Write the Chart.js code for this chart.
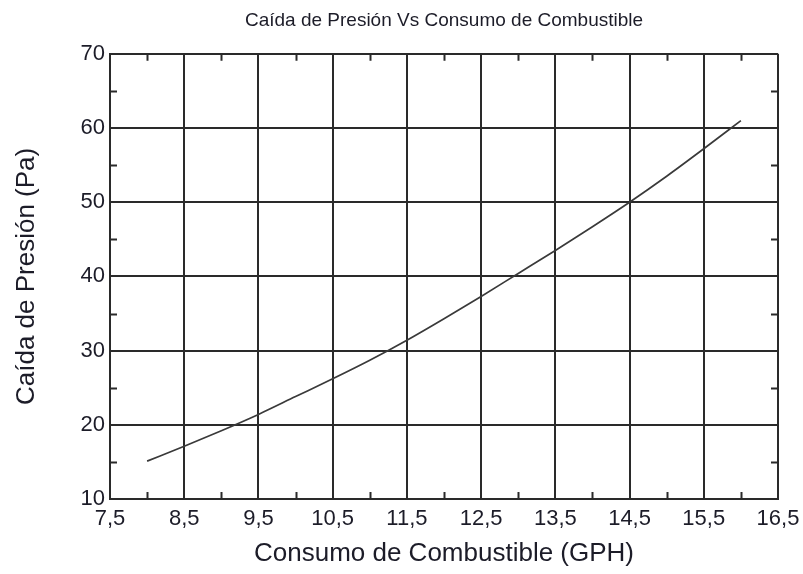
<!DOCTYPE html>
<html>
<head>
<meta charset="utf-8">
<script src="https://cdn.jsdelivr.net/npm/chart.js@4.4.0/dist/chart.umd.min.js"></script>
<style>
  body { margin: 0; background: #fff; }
  #chart { display: block; }
</style>
</head>
<body>
<canvas id="chart" width="803" height="574"></canvas>
<script>
// Consumo de combustible (GPH)
const consumo = [8, 8.5, 9, 9.5, 10, 10.5, 11, 11.5, 12, 12.5, 13, 13.5, 14, 14.5, 15, 15.5, 16];
// Caida de presion (Pa)
const presion = [15.1, 17.1, 19.2, 21.4, 23.8, 26.2, 28.7, 31.4, 34.3, 37.3, 40.4, 43.5, 46.7, 50.0, 53.5, 57.2, 61.0];

const xTicks = [7.5, 8.5, 9.5, 10.5, 11.5, 12.5, 13.5, 14.5, 15.5, 16.5];
const yTicks = [10, 20, 30, 40, 50, 60, 70];

const gridColor = "#2a2a2a";
const textColor = "#1c1c28";
const fontFamily = "Liberation Sans, Arial, sans-serif";

// minor ticks pointing inside the plot, on all four sides
const minorTicks = {
    id: "minorTicks",
    afterDraw(chart) {
        const { ctx, chartArea: a, scales: { x, y } } = chart;
        ctx.save();
        ctx.strokeStyle = gridColor;
        ctx.lineWidth = 2;
        ctx.beginPath();
        for (let v = 8; v <= 16; v += 1) {
            const px = Math.round(x.getPixelForValue(v)) + 0.5;
            ctx.moveTo(px, a.bottom); ctx.lineTo(px, a.bottom - 7);
            ctx.moveTo(px, a.top); ctx.lineTo(px, a.top + 7);
        }
        for (let v = 15; v <= 65; v += 10) {
            const py = Math.round(y.getPixelForValue(v)) + 0.5;
            ctx.moveTo(a.left, py); ctx.lineTo(a.left + 7, py);
            ctx.moveTo(a.right, py); ctx.lineTo(a.right - 7, py);
        }
        ctx.stroke();
        ctx.restore();
    }
};

new Chart(document.getElementById("chart"), {
    type: "scatter",
    data: {
        datasets: [{
            data: consumo.map((c, i) => ({ x: c, y: presion[i] })),
            showLine: true,
            borderColor: "#3a3a3a",
            borderWidth: 1.7,
            pointRadius: 0,
            cubicInterpolationMode: "monotone",
        }],
    },
    options: {
        responsive: false,
        animation: false,
        layout: { padding: { left: 0, right: 25, top: 0, bottom: 0 } },
        plugins: {
            legend: { display: false },
            tooltip: { enabled: false },
            title: {
                display: true,
                fullSize: false,
                text: "Caída de Presión Vs Consumo de Combustible",
                color: textColor,
                font: { family: fontFamily, size: 19, weight: "normal" },
                padding: { top: 9, bottom: 22 },
            },
        },
        scales: {
            x: {
                type: "linear",
                min: 7.5,
                max: 16.5,
                afterBuildTicks: (scale) => { scale.ticks = xTicks.map(v => ({ value: v })); },
                afterFit: (scale) => {
                    scale.height = 75;
                    scale.paddingLeft = 0;
                    scale.paddingRight = 0;
                },
                ticks: {
                    color: textColor,
                    font: { family: fontFamily, size: 22 },
                    padding: 7,
                    maxRotation: 0,
                    callback: (v) => v.toFixed(1).replace(".", ","),
                },
                grid: { color: gridColor, lineWidth: 2, drawTicks: false },
                border: { color: gridColor, width: 2 },
                title: {
                    display: true,
                    text: "Consumo de Combustible (GPH)",
                    color: textColor,
                    font: { family: fontFamily, size: 26 },
                    padding: { top: 0, bottom: 5 },
                },
            },
            y: {
                type: "linear",
                min: 10,
                max: 70,
                afterBuildTicks: (scale) => { scale.ticks = yTicks.map(v => ({ value: v })); },
                afterFit: (scale) => { scale.width = 110; },
                ticks: {
                    color: textColor,
                    font: { family: fontFamily, size: 22 },
                    padding: 5,
                },
                grid: { color: gridColor, lineWidth: 2, drawTicks: false },
                border: { color: gridColor, width: 2 },
                title: {
                    display: true,
                    text: "Caída de Presión (Pa)",
                    color: textColor,
                    font: { family: fontFamily, size: 26 },
                    padding: { top: 11, bottom: 0 },
                },
            },
        },
    },
    plugins: [minorTicks],
});
</script>
</body>
</html>
